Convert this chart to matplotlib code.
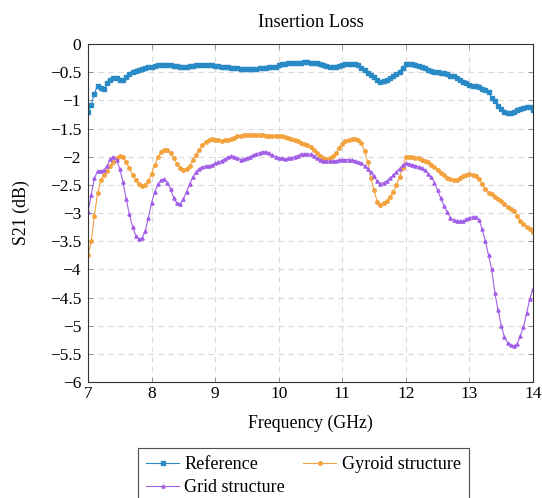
import numpy as np
import matplotlib
matplotlib.use("Agg")
import matplotlib.pyplot as plt

plt.rcParams["font.family"] = ["Liberation Serif", "DejaVu Serif"]
plt.rcParams["axes.unicode_minus"] = True

# S21 sweep, 7-14 GHz in 50 MHz steps (one row per half GHz)
freq = np.round(np.arange(7.0, 14.0 + 1e-9, 0.05), 2)

reference = [
    -1.20, -1.08, -0.88, -0.74, -0.78, -0.80, -0.70, -0.63, -0.60, -0.61,
    -0.64, -0.64, -0.59, -0.53, -0.50, -0.48, -0.46, -0.44, -0.43, -0.41,
    -0.40, -0.39, -0.38, -0.38, -0.38, -0.38, -0.38, -0.39, -0.39, -0.40,
    -0.40, -0.40, -0.39, -0.39, -0.38, -0.37, -0.37, -0.37, -0.37, -0.38,
    -0.39, -0.39, -0.40, -0.40, -0.41, -0.42, -0.43, -0.43, -0.44, -0.45,
    -0.45, -0.45, -0.44, -0.44, -0.43, -0.43, -0.42, -0.41, -0.41, -0.40,
    -0.38, -0.36, -0.35, -0.34, -0.34, -0.33, -0.33, -0.33, -0.32, -0.32,
    -0.33, -0.33, -0.34, -0.35, -0.37, -0.39, -0.40, -0.40, -0.40, -0.39,
    -0.38, -0.36, -0.35, -0.35, -0.36, -0.38, -0.42, -0.47, -0.51, -0.55,
    -0.59, -0.64, -0.67, -0.66, -0.63, -0.61, -0.57, -0.53, -0.49, -0.42,
    -0.36, -0.36, -0.36, -0.37, -0.39, -0.41, -0.43, -0.46, -0.48, -0.49,
    -0.50, -0.51, -0.52, -0.54, -0.56, -0.57, -0.60, -0.63, -0.67, -0.70,
    -0.72, -0.74, -0.75, -0.76, -0.79, -0.81, -0.86, -0.95, -1.02, -1.10,
    -1.16, -1.20, -1.22, -1.23, -1.21, -1.18, -1.16, -1.13, -1.11, -1.12,
    -1.17,
]

gyroid = [
    -3.75, -3.50, -3.05, -2.65, -2.42, -2.32, -2.25, -2.17, -2.09, -2.02,
    -1.98, -2.00, -2.10, -2.20, -2.32, -2.42, -2.49, -2.52, -2.50, -2.43,
    -2.30, -2.15, -2.01, -1.92, -1.88, -1.89, -1.94, -2.02, -2.13, -2.20,
    -2.23, -2.21, -2.16, -2.06, -1.97, -1.88, -1.80, -1.74, -1.70, -1.69,
    -1.70, -1.71, -1.72, -1.71, -1.70, -1.68, -1.66, -1.64, -1.63, -1.62,
    -1.61, -1.61, -1.61, -1.61, -1.62, -1.62, -1.63, -1.63, -1.63, -1.63,
    -1.63, -1.64, -1.65, -1.66, -1.68, -1.70, -1.73, -1.76, -1.78, -1.80,
    -1.83, -1.88, -1.94, -1.99, -2.02, -2.04, -2.03, -1.99, -1.93, -1.85,
    -1.78, -1.73, -1.70, -1.68, -1.68, -1.70, -1.76, -1.90, -2.10, -2.38,
    -2.60, -2.80, -2.85, -2.83, -2.78, -2.71, -2.63, -2.50, -2.36, -2.20,
    -2.00, -2.00, -2.01, -2.02, -2.03, -2.05, -2.07, -2.10, -2.14, -2.19,
    -2.24, -2.29, -2.33, -2.37, -2.40, -2.42, -2.41, -2.38, -2.35, -2.32,
    -2.31, -2.32, -2.35, -2.40, -2.48, -2.58, -2.64, -2.67, -2.71, -2.75,
    -2.79, -2.84, -2.89, -2.92, -2.96, -3.05, -3.14, -3.19, -3.24, -3.29,
    -3.33,
]

grid = [
    -2.98, -2.68, -2.38, -2.26, -2.25, -2.24, -2.16, -2.04, -2.00, -2.06,
    -2.22, -2.45, -2.75, -3.02, -3.24, -3.40, -3.47, -3.45, -3.32, -3.08,
    -2.82, -2.62, -2.49, -2.41, -2.40, -2.46, -2.58, -2.74, -2.83, -2.84,
    -2.75, -2.62, -2.48, -2.36, -2.27, -2.21, -2.18, -2.17, -2.16, -2.15,
    -2.12, -2.10, -2.07, -2.04, -2.01, -1.99, -2.00, -2.03, -2.05, -2.04,
    -2.02, -2.00, -1.97, -1.95, -1.93, -1.91, -1.92, -1.94, -1.97, -2.00,
    -2.02, -2.03, -2.04, -2.03, -2.02, -2.00, -1.98, -1.96, -1.95, -1.95,
    -1.96, -1.99, -2.03, -2.05, -2.07, -2.08, -2.08, -2.08, -2.07, -2.06,
    -2.05, -2.05, -2.05, -2.06, -2.07, -2.09, -2.12, -2.16, -2.21, -2.28,
    -2.35, -2.44, -2.48, -2.46, -2.43, -2.38, -2.33, -2.27, -2.21, -2.15,
    -2.12, -2.13, -2.14, -2.16, -2.18, -2.20, -2.24, -2.30, -2.36, -2.46,
    -2.60, -2.74, -2.87, -2.98, -3.08, -3.13, -3.14, -3.15, -3.14, -3.11,
    -3.08, -3.07, -3.07, -3.12, -3.28, -3.50, -3.75, -4.00, -4.42, -4.72,
    -5.00, -5.20, -5.30, -5.35, -5.36, -5.33, -5.18, -5.02, -4.78, -4.52,
    -4.35,
]

assert len(reference) == len(gyroid) == len(grid) == len(freq)

yticks = np.arange(-6, 0.01, 0.5)
ytick_labels = ["0" if v == 0 else ("%g" % v).replace("-", "\u2212") for v in yticks]

fig = plt.figure(figsize=(5.42, 4.98), dpi=100)
ax = fig.add_axes([0.1624, 0.2329, 0.8210, 0.6787])

l_ref, = ax.plot(freq, reference, color="#2a8ac6", marker="s", markersize=2.3,
                 linewidth=0.8, label="Reference")
l_gyr, = ax.plot(freq, gyroid, color="#f4a23e", marker="o", markersize=2.5,
                 linewidth=0.8, label="Gyroid structure")
l_grd, = ax.plot(freq, grid, color="#a35ee8", marker="^", markersize=2.3,
                 linewidth=0.8, label="Grid structure")

ax.set_xlim(7, 14)
ax.set_ylim(-6, 0)
ax.set_xticks(np.arange(7, 15, 1))
ax.set_yticks(yticks)
ax.set_yticklabels(ytick_labels)

ax.grid(True, color="#dadada", linestyle=(0, (5, 4)), linewidth=0.8)
ax.tick_params(direction="in", top=True, right=True, length=3.5,
               width=0.6, color="#888888", labelsize=12.5)
ax.tick_params(axis="y", pad=5)
ax.tick_params(axis="x", pad=3)
for s in ax.spines.values():
    s.set_linewidth(0.8)
    s.set_color("#333333")

ax.set_title("Insertion Loss", fontsize=13.3, pad=12)
ax.set_xlabel("Frequency (GHz)", fontsize=12.8, labelpad=9)
ax.set_ylabel("S21 (dB)", fontsize=12.8, labelpad=14)

# column-major fill: order handles so rows read Reference | Gyroid, Grid
leg = fig.legend([l_ref, l_grd, l_gyr],
                 ["Reference", "Grid structure", "Gyroid structure"],
                 loc="upper left", bbox_to_anchor=(138 / 542, 1 - 448 / 498), ncol=2,
                 fontsize=13.1, frameon=True, fancybox=False, edgecolor="#222222",
                 handlelength=1.8, handletextpad=0.3, columnspacing=1.0,
                 borderpad=0.45, borderaxespad=0.0, labelspacing=0.33)
leg.get_frame().set_linewidth(0.8)
for h in leg.legend_handles:
    h.set_markevery([1])

fig.savefig("out.png", dpi=100)
